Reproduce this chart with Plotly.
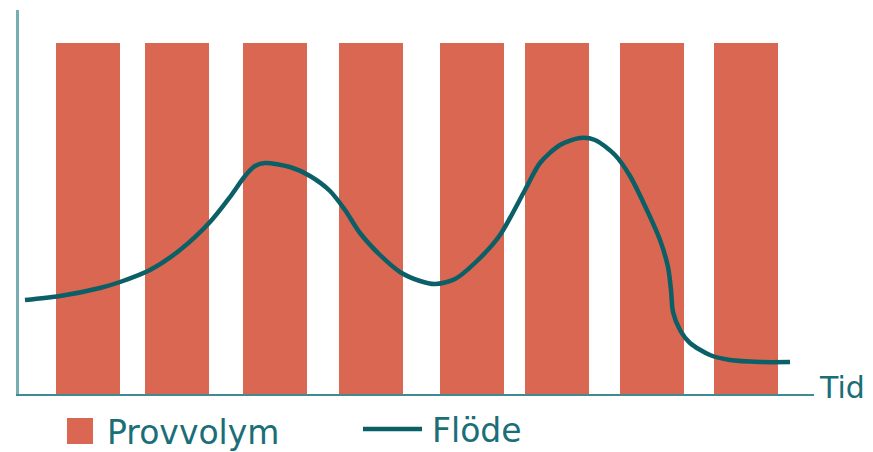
import plotly.graph_objects as go

# Sample times (arbitrary units) and sample volumes
sample_times = [69, 158, 256, 352, 453, 538, 633, 727]
sample_volume = [351, 351, 351, 351, 351, 351, 351, 351]
bar_width = 64

# Flow curve
flow_time = [6, 41, 81, 101, 131, 161, 191, 211, 226, 236, 246, 271, 291, 311, 326,
             341, 361, 381, 401, 416, 436, 459, 481, 506, 521, 541, 561, 576, 596,
             611, 626, 641, 649, 652, 654, 661, 671, 691, 711, 741, 771]
flow_value = [94, 98, 106, 112, 124, 144, 172, 197, 218, 228, 231, 227, 218, 203, 184,
              161, 139, 122, 113, 110, 115, 134, 159, 204, 231, 249, 256, 254, 239,
              218, 188, 154, 127, 104, 82, 64, 51, 39, 34, 32, 32]

labels = {"bars": "Provvolym", "line": "Flöde", "xaxis": "Tid"}

BAR = "#D96752"
LINE = "#0B5F66"
TEXT = "#1A6E78"
FONT = "DejaVu Sans"
FS = 33

# page body has an 8px margin; the figure is sized so it ends at the window edge
OFF = 8
W, H = 873 - OFF, 452 - OFF
# plot area in window pixels: x 19..814, y 10..394
PX0, PX1, PY0, PY1 = 19, 814, 10, 394
L, R = PX0 - OFF, W - (PX1 - OFF)
T, B = PY0 - OFF, H - (PY1 - OFF)
pw, ph = PX1 - PX0, PY1 - PY0

def px(x):
    return (x - PX0) / pw

def py(y):
    return (PY1 - y) / ph

fig = go.Figure()
fig.add_trace(go.Bar(x=sample_times, y=sample_volume, width=bar_width,
                     marker=dict(color=BAR, line=dict(width=0)),
                     name=labels["bars"], showlegend=False))
fig.add_trace(go.Scatter(x=flow_time, y=flow_value, mode="lines",
                         line=dict(color=LINE, width=4.5, shape="spline", smoothing=0.8),
                         name=labels["line"], showlegend=False))

fig.update_layout(
    width=W, height=H,
    margin=dict(l=L, r=R, t=T, b=B, pad=0),
    paper_bgcolor="white", plot_bgcolor="white",
    xaxis=dict(range=[0, 795], showgrid=False, zeroline=False, showticklabels=False,
               ticks="", showline=True, linecolor="#3E8C92", linewidth=2),
    yaxis=dict(range=[0, 384], showgrid=False, zeroline=False, showticklabels=False,
               ticks="", showline=True, linecolor="#78AEB3", linewidth=3),
    bargap=0,
    shapes=[
        dict(type="rect", xref="paper", yref="paper",
             x0=px(67), x1=px(93), y0=py(444), y1=py(418),
             fillcolor=BAR, line=dict(width=0)),
        dict(type="line", xref="paper", yref="paper",
             x0=px(363), x1=px(422), y0=py(429), y1=py(429),
             line=dict(color=LINE, width=4.5)),
    ],
    annotations=[
        dict(text=labels["bars"], xref="paper", yref="paper", x=px(105), y=py(432),
             xanchor="left", yanchor="middle", showarrow=False,
             font=dict(family=FONT, size=FS, color=TEXT)),
        dict(text=labels["line"], xref="paper", yref="paper", x=px(430), y=py(430),
             xanchor="left", yanchor="middle", showarrow=False,
             font=dict(family=FONT, size=FS, color=TEXT)),
        dict(text=labels["xaxis"], xref="paper", yref="paper", x=px(817), y=py(387),
             xanchor="left", yanchor="middle", showarrow=False,
             font=dict(family=FONT, size=30, color=TEXT)),
    ],
)

fig.write_html("out.html")
